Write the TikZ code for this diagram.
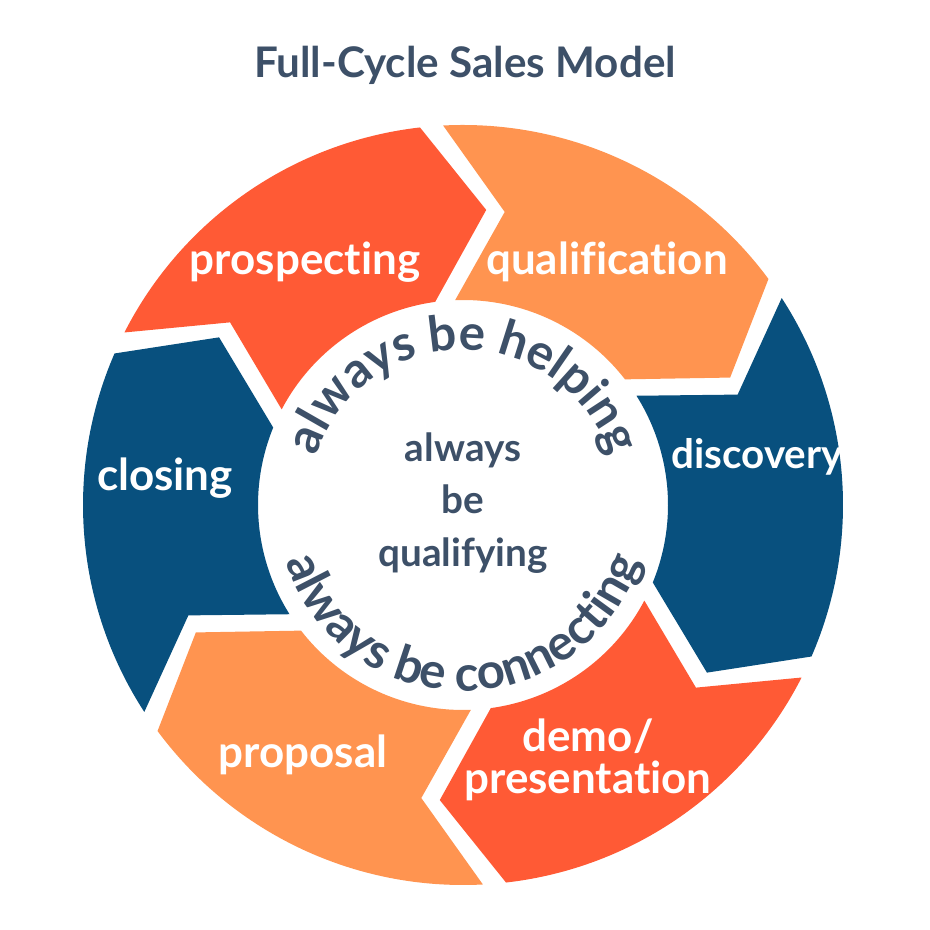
\documentclass[tikz,border=0pt]{standalone}
\usepackage{fontspec}
\setmainfont{Lato}[Ligatures=NoCommon]
\usetikzlibrary{positioning}
\usetikzlibrary{decorations.text}
\definecolor{redorange}{HTML}{FF5A35}
\definecolor{lightorange}{HTML}{FF9450}
\definecolor{deepblue}{HTML}{08507E}
\definecolor{ink}{HTML}{3D5068}
\begin{document}
\begin{tikzpicture}[thin, stage/.style={font=\bfseries\fontsize{12.5}{14}\selectfont, text=white, align=center}, core/.style={font=\bfseries\fontsize{11}{13}\selectfont, text=ink, align=center}]
	  \useasboundingbox (0,0) rectangle (9.3,9.3);
	  \node[font=\bfseries\fontsize{12}{14}\selectfont, text=ink] (title) at (4.65,8.65) {Full-Cycle Sales Model};
	  \begin{scope}[shift={(4.63,4.25)}]
	  % six chevron segments, clockwise
	  \foreach \b/\col in {0/redorange, 1/lightorange, 2/deepblue, 3/redorange, 4/lightorange, 5/deepblue} {
	    \pgfmathsetmacro\ts{156.5-60*\b}
	    \pgfmathsetmacro\te{\ts-60}
	    \fill[\col] (\ts-3.5:3.8) arc[start angle=\ts-3.5, end angle=\te, radius=3.8]
	      -- (\te-11:2.96) -- (\te+1.3:2.05)
	      arc[start angle=\te+1.3, end angle=\ts-4.3, radius=2.05]
	      -- (\ts-14.6:2.96) -- cycle;
	  }
	  \node[stage] (prospecting) at (-1.58,2.43) {prospecting};
	  \node[stage] (qualification) at (1.44,2.43) {qualification};
	  \node[stage, font=\bfseries\fontsize{11.5}{13}\selectfont] (discovery) at (2.94,0.48) {discovery};
	  \node[stage] (demo) at (1.25,-2.55) {demo/\\[-2pt]presentation};
	  \node[stage] (proposal) at (-1.60,-2.50) {proposal};
	  \node[stage] (closing) at (-2.98,0.27) {closing};
	  \node[core] (qualifying) at (0,0.02) {always\\[2pt]be\\[2pt]qualifying};
	  % curved mottos
	  \path[decorate, decoration={text along path, text align=center, text={|\bfseries\fontsize{14}{16}\selectfont\color{ink}|always be helping}}]
	    (165:1.55) arc[start angle=165, end angle=15, radius=1.55];
	  \path[decorate, decoration={text along path, text align=center, text={|\bfseries\fontsize{14}{16}\selectfont\color{ink}|always be connecting}}]
	    (190:1.86) arc[start angle=190, end angle=350, radius=1.86];
	  \end{scope}
	\end{tikzpicture}
\end{document}
